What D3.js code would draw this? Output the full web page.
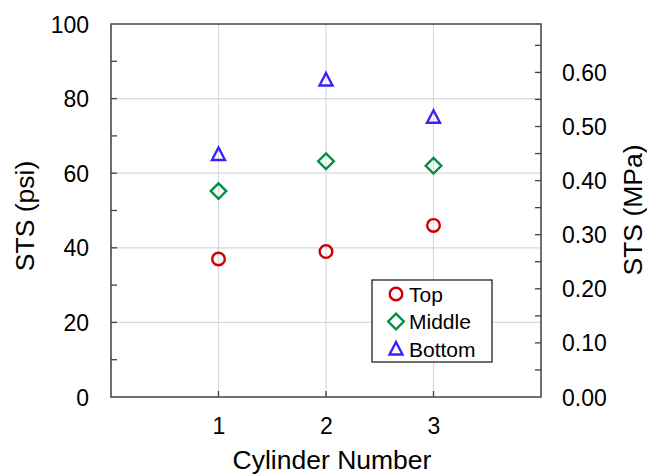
<!DOCTYPE html>
<html><head><meta charset="utf-8">
<script src="https://cdn.jsdelivr.net/npm/d3@7"></script>
<style>body{margin:0;background:#fff}svg{display:block}text{font-family:"Liberation Sans",Arial,sans-serif;fill:#000}</style>
</head><body><svg id="c" width="647" height="475"></svg>
<script>
const cylinders = [1, 2, 3];
const topVals = [37, 39, 46];
const middleVals = [55.2, 63.2, 62];
const bottomVals = [65, 85, 75];
const seriesNames = ["Top", "Middle", "Bottom"];
const psiTicks = [0, 20, 40, 60, 80, 100];
const mpaTicks = [0, 0.1, 0.2, 0.3, 0.4, 0.5, 0.6];
const psiToMpa = 0.0068948;

const svg = d3.select("#c");
const L = 111, R = 541, T = 24, B = 397;
const x = d3.scaleLinear().domain([0, 4]).range([L, R]);
const y = d3.scaleLinear().domain([0, 100]).range([B, T]);
const y2 = d3.scaleLinear().domain([0, 100 * psiToMpa]).range([B, T]);
const axisCol = "#404040";
const FF = "Liberation Sans, Arial, sans-serif";

// gridlines
svg.append("g").selectAll("line").data(psiTicks.filter(d => d > 0 && d < 100)).join("line")
  .attr("x1", L).attr("x2", R).attr("y1", d => y(d)).attr("y2", d => y(d))
  .attr("stroke", "#d9d9d9").attr("stroke-width", 1.2);
svg.append("g").selectAll("line").data(cylinders).join("line")
  .attr("y1", T).attr("y2", B).attr("x1", d => x(d)).attr("x2", d => x(d))
  .attr("stroke", "#d9d9d9").attr("stroke-width", 1.2);

// left axis
const leftAx = d3.axisLeft(y).tickValues(psiTicks).tickSize(0).tickPadding(22).tickFormat(d3.format("d"));
const gl = svg.append("g").attr("transform", `translate(${L},0)`).call(leftAx);
gl.select(".domain").remove();
gl.selectAll("text").attr("font-size", 23).attr("font-family", FF).attr("fill", "#000").attr("dy", "0.35em");
svg.append("g").selectAll("line").data(d3.range(10, 100, 10)).join("line")
  .attr("x1", L).attr("x2", L + 6).attr("y1", d => y(d)).attr("y2", d => y(d))
  .attr("stroke", axisCol).attr("stroke-width", 1.3);

// right axis
const rightAx = d3.axisRight(y2).tickValues(mpaTicks).tickSize(0).tickPadding(21).tickFormat(d3.format(".2f"));
const gr = svg.append("g").attr("transform", `translate(${R},0)`).call(rightAx);
gr.select(".domain").remove();
gr.selectAll("text").attr("font-size", 23).attr("font-family", FF).attr("fill", "#000").attr("dy", "0.35em");
svg.append("g").selectAll("line").data(d3.range(0.05, 0.68, 0.05)).join("line")
  .attr("x1", R - 6).attr("x2", R).attr("y1", d => y2(d)).attr("y2", d => y2(d))
  .attr("stroke", axisCol).attr("stroke-width", 1.3);

// bottom axis
const botAx = d3.axisBottom(x).tickValues(cylinders).tickSize(0).tickPadding(21).tickFormat(d3.format("d"));
const gb = svg.append("g").attr("transform", `translate(0,${B})`).call(botAx);
gb.select(".domain").remove();
gb.selectAll("text").attr("font-size", 23).attr("font-family", FF).attr("fill", "#000");
svg.append("g").selectAll("line").data(cylinders).join("line")
  .attr("x1", d => x(d)).attr("x2", d => x(d)).attr("y1", B).attr("y2", B - 6)
  .attr("stroke", axisCol).attr("stroke-width", 1.3);

// frame
svg.append("rect").attr("x", L).attr("y", T).attr("width", R - L).attr("height", B - T)
  .attr("fill", "none").attr("stroke", axisCol).attr("stroke-width", 1.5);

// titles
svg.append("text").attr("transform", `translate(34,216) rotate(-90)`)
  .attr("text-anchor", "middle").attr("font-size", 26.5).text("STS (psi)");
svg.append("text").attr("transform", `translate(642,210) rotate(-90)`)
  .attr("text-anchor", "middle").attr("font-size", 26.5).text("STS (MPa)");
svg.append("text").attr("x", 332).attr("y", 469).attr("text-anchor", "middle")
  .attr("font-size", 26.5).text("Cylinder Number");

// markers
const colors = {Top: "#cc0000", Middle: "#009040", Bottom: "#3a22ff"};
const data = {Top: topVals, Middle: middleVals, Bottom: bottomVals};

function marker(g, name) {
  if (name === "Middle") return g.append("path").attr("d", "M0,-7.8L7.8,0L0,7.8L-7.8,0Z");
  if (name === "Bottom") return g.append("path").attr("d", "M0,-7L6.5,5.5L-6.5,5.5Z");
  return g.append("circle").attr("r", 6.3);
}

seriesNames.forEach(name => {
  cylinders.forEach((c, i) => {
    const g = svg.append("g").attr("transform", `translate(${x(c)},${y(data[name][i])})`);
    marker(g, name).attr("fill", "none").attr("stroke", colors[name]).attr("stroke-width", 2.4);
  });
});

// legend
const lg = svg.append("g");
lg.append("rect").attr("x", 372).attr("y", 280).attr("width", 120).attr("height", 82)
  .attr("fill", "#fff").attr("stroke", "#222").attr("stroke-width", 1.3);
seriesNames.forEach((name, i) => {
  const cy = 294 + i * 27.5;
  const g = lg.append("g").attr("transform", `translate(396,${cy})`);
  marker(g, name).attr("fill", "none").attr("stroke", colors[name]).attr("stroke-width", 2.4);
  lg.append("text").attr("x", 409).attr("y", cy + 7.5).attr("font-size", 21).text(name);
});
</script></body></html>
